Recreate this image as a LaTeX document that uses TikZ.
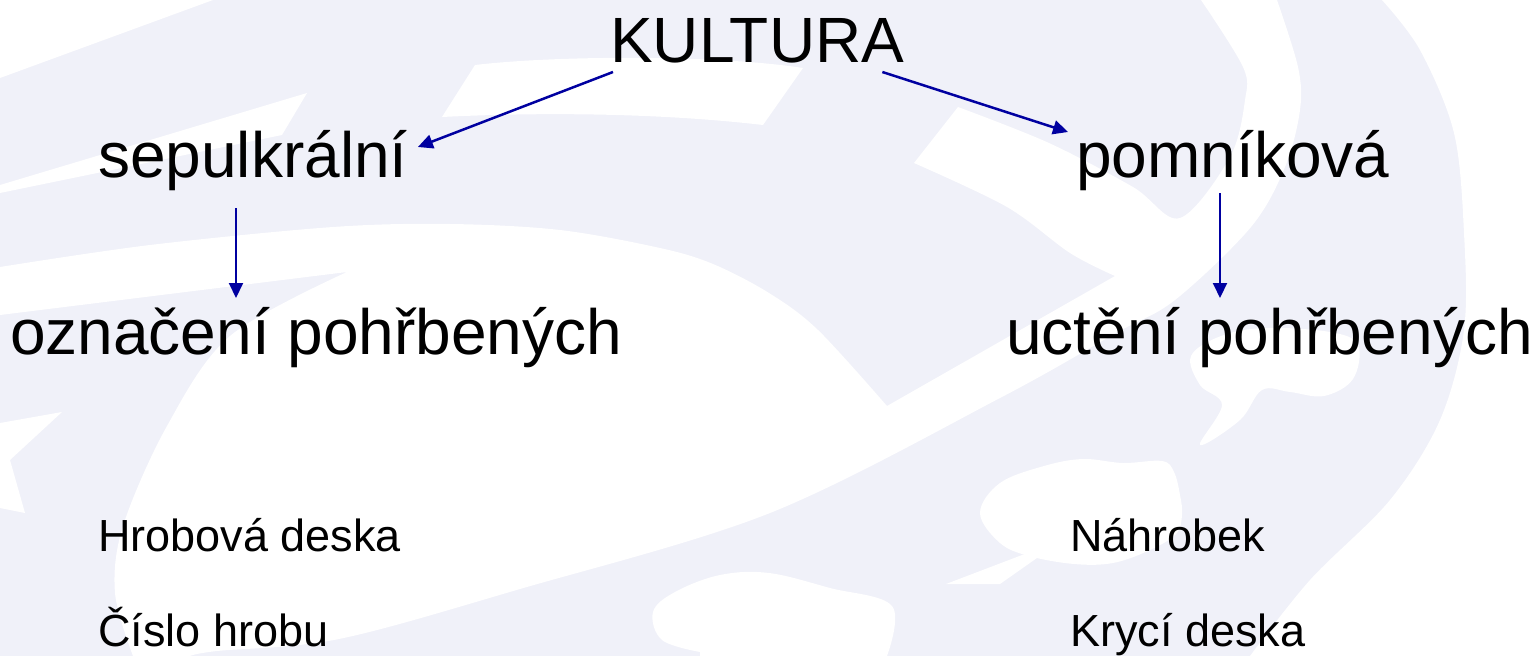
\documentclass[tikz,border=0pt]{standalone}
\usepackage{fontspec}
\setmainfont{Liberation Sans}
\usetikzlibrary{arrows.meta,calc}
\definecolor{lav}{RGB}{240,241,249}
\definecolor{arr}{RGB}{0,0,160}
\begin{document}
\begin{tikzpicture}[x=1pt,y=-1pt,
  big/.style={anchor=base west,inner sep=0pt,font=\fontsize{64}{70}\selectfont},
  small/.style={anchor=base west,inner sep=0pt,font=\fontsize{45}{50}\selectfont},
  link/.style={draw=arr,line width=2.5pt,-{Triangle[length=15pt,width=14pt]}},
  vlink/.style={link,line width=2pt},
  wm/.style={fill=white,draw=none}]
\useasboundingbox (0,0) rectangle (1539,656);
% ---- watermark background ----
\fill[lav] (0,0) rectangle (1539,656);
\fill[wm] (0,0) -- (213,0) -- (0,78) -- cycle;
\fill[wm] (0,185) -- (307,93) -- (282,135) -- (0,193) -- cycle;
\fill[wm] (475,65) .. controls (560,55) and (720,55) .. (803,68) -- (763,125)
  .. controls (660,113) and (540,112) .. (442,117) -- cycle;
\fill[wm] (0,423) -- (62,412) -- (10,460) -- (25,513) -- (0,508) -- cycle;
% big white swirl
\fill[wm] (1201,0) -- (1277,0)
  -- plot[smooth,tension=0.55] coordinates {(1277,0) (1298,67) (1300,110) (1285,167) (1251,227) (1175,300) (1116,333) (1000,398) (770,513) (520,589) (339,639) (217,651) (190,656)}
  -- (133,656)
  -- plot[smooth,tension=0.55] coordinates {(133,656) (115,593) (123,526) (167,426) (230,336) (347,272)}
  -- (0,315) -- (0,267)
  -- plot[smooth,tension=0.55] coordinates {(0,267) (150,245) (333,227) (450,224) (560,230) (660,248) (713,264) (769,293) (818,330) (887,406)}
  -- (1115,276)
  -- plot[smooth,tension=0.55] coordinates {(1115,276) (1070,253) (1007,207) (914,163)}
  -- (958,107)
  -- plot[smooth,tension=0.55] coordinates {(958,107) (1049,143) (1133,187) (1180,218) (1230,157) (1245,100) (1243,67) (1201,0)}
  -- cycle;
% right white region
\fill[wm] (1382,0) -- (1539,0) -- (1539,656) -- (1250,656)
  -- plot[smooth,tension=0.55] coordinates {(1250,656) (1310,580) (1390,500) (1440,420) (1464,330) (1464,233) (1454,133) (1420,50) (1382,0)}
  -- cycle;
% leaf blobs
\fill[wm] plot[smooth cycle,tension=0.6] coordinates {(1191,356) (1221,336) (1265,328) (1330,332) (1358,345) (1353,379) (1324,396) (1290,392) (1262,390) (1240,420) (1200,445) (1222,405) (1200,385)};
\fill[wm] plot[smooth cycle,tension=0.6] coordinates {(980,513) (1000,483) (1044,466) (1083,459) (1123,463) (1162,461) (1174,472) (1180,495) (1182,515) (1176,534) (1150,550) (1113,563) (1074,564) (1029,556) (1000,543)};
\fill[wm] (1064,539) -- (946,584) -- (1000,584) -- cycle;
\fill[wm] plot[smooth,tension=0.6] coordinates {(887,656) (892,606) (830,588) (769,573) (720,575) (675,592) (653,612) (662,640) (700,652)} -- (700,656) -- cycle;
% ---- texts ----
\node[big]   (kul) at (610,62)  {KULTURA};
\node[big]   (sep) at (98,177)  {sepulkrální};
\node[big]   (pom) at (1076,177) {pomníková};
\node[big]   (ozn) at (10,354)  {označení pohřbených};
\node[big]   (uct) at (1006,354) {uctění pohřbených};
\node[small] (hd)  at (98,551)  {Hrobová deska};
\node[small] (ch)  at (98,646)  {Číslo hrobu};
\node[small] (na)  at (1070,551) {Náhrobek};
\node[small] (kd)  at (1070,646) {Krycí deska};
% ---- connectors ----
\draw[link]  ($(kul.base west)+(3,10)$) -- ($(sep.base east)+(10,-30)$);
\draw[link]  ($(kul.base east)+(-22,10)$) -- ($(pom.base west)+(-8,-45)$);
\draw[vlink] ($(sep.base west)+(138,31)$) -- ($(ozn.base west)+(226,-56)$);
\draw[vlink] ($(pom.base west)+(144,16)$) -- ($(uct.base west)+(214,-56)$);
\end{tikzpicture}
\end{document}
